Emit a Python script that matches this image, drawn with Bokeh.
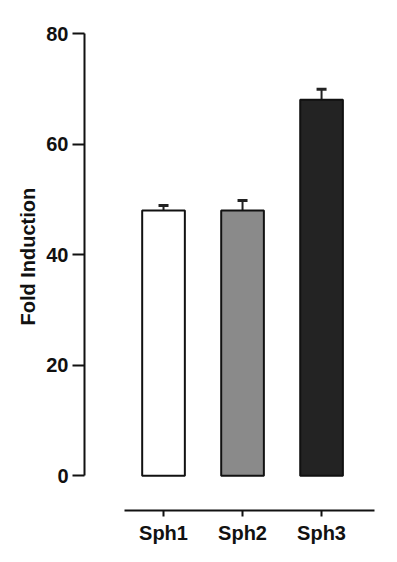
from bokeh.plotting import figure
from bokeh.models import ColumnDataSource, FixedTicker, Range1d, Whisker, TeeHead, Title
from bokeh.embed import file_html
from bokeh.resources import INLINE

categories = ["Sph1", "Sph2", "Sph3"]
positions = [1, 2, 3]
values = [48, 48, 68]
errors = [0.9, 1.8, 1.9]
colors = ["#ffffff", "#8a8a8a", "#232323"]
y_ticks = [0, 20, 40, 60, 80]
y_title = "Fold Induction"

upper = [v + e for v, e in zip(values, errors)]
src = ColumnDataSource(dict(x=positions, top=values, upper=upper, color=colors))

FONT = "Liberation Sans"
INK = "#111111"

p = figure(width=381, height=546, output_backend="svg", toolbar_location=None,
           x_range=Range1d(0, 3.67), y_range=Range1d(-6.29, 80),
           min_border_left=84, min_border_right=7, min_border_top=33, min_border_bottom=33)
p.outline_line_color = None
p.grid.visible = False
p.background_fill_color = "white"
p.border_fill_color = "white"

p.vbar(x="x", top="top", bottom=0, width=0.54, source=src,
       fill_color="color", line_color=INK, line_width=2)

w = Whisker(source=src, base="x", lower="top", upper="upper", dimension="height",
            line_color="#222222", line_width=2,
            lower_head=None, upper_head=TeeHead(size=10, line_color="#222222", line_width=3))
p.add_layout(w)

ya = p.yaxis[0]
ya.ticker = FixedTicker(ticks=y_ticks, minor_ticks=[])
ya.bounds = (0, 80)
ya.axis_line_width = 2
ya.axis_line_color = INK
ya.major_tick_line_width = 2
ya.major_tick_line_color = INK
ya.major_tick_out = 12
ya.major_tick_in = 0
ya.minor_tick_line_color = None
ya.major_label_standoff = 4
ya.major_label_text_font = FONT
ya.major_label_text_font_style = "bold"
ya.major_label_text_font_size = "20px"
ya.major_label_text_color = INK

title = Title(text=y_title, align="left", offset=185, standoff=10,
              text_font=FONT, text_font_style="bold", text_font_size="20px",
              text_color=INK)
p.add_layout(title, "left")

xa = p.xaxis[0]
xa.ticker = FixedTicker(ticks=positions, minor_ticks=[])
xa.major_label_overrides = {pos: c for pos, c in zip(positions, categories)}
xa.bounds = (0.5, 3.67)
xa.axis_line_width = 2
xa.axis_line_color = INK
xa.major_tick_line_width = 2
xa.major_tick_line_color = INK
xa.major_tick_out = 6
xa.major_tick_in = 0
xa.minor_tick_line_color = None
xa.major_label_standoff = 5
xa.major_label_text_font = FONT
xa.major_label_text_font_style = "bold"
xa.major_label_text_font_size = "20px"
xa.major_label_text_color = INK

open("out.html", "w").write(file_html(p, INLINE))
